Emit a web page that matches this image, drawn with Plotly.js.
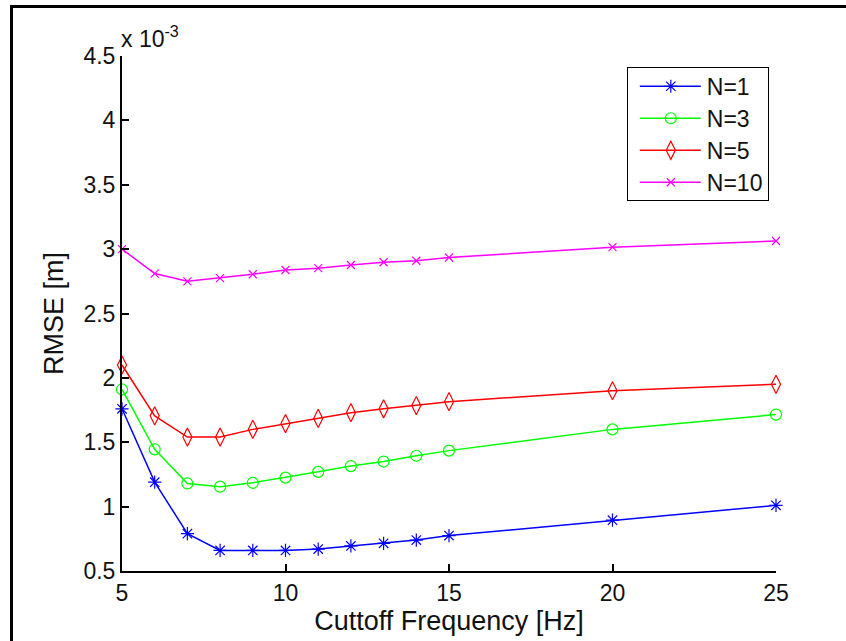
<!DOCTYPE html>
<html>
<head>
<meta charset="utf-8">
<script src="https://cdn.plot.ly/plotly-3.0.1.min.js"></script>
<style>
  html, body { margin: 0; padding: 0; background: #fff; }
  #chart { position: absolute; left: 0; top: 0; width: 846px; height: 641px; }
  #frame { position: absolute; left: 10px; top: 5px; width: 900px; height: 700px;
           border-left: 3px solid #000; border-top: 3px solid #000; pointer-events: none; }
</style>
</head>
<body>
<div id="chart"></div>
<div id="frame"></div>
<script>
// Data (RMSE in units of 1e-3 m)
const cutoffHz = [5, 6, 7, 8, 9, 10, 11, 12, 13, 14, 15, 20, 25];
const rmseN1  = [1.76, 1.19, 0.79, 0.66, 0.66, 0.66, 0.67, 0.695, 0.715, 0.74, 0.775, 0.895, 1.01];
const rmseN3  = [1.91, 1.445, 1.18, 1.155, 1.185, 1.225, 1.27, 1.315, 1.35, 1.395, 1.435, 1.60, 1.715];
const rmseN5  = [2.10, 1.705, 1.54, 1.54, 1.60, 1.645, 1.685, 1.73, 1.76, 1.785, 1.815, 1.90, 1.95];
const rmseN10 = [3.00, 2.81, 2.75, 2.775, 2.805, 2.838, 2.852, 2.877, 2.898, 2.91, 2.935, 3.015, 3.063];
const seriesNames = ['N=1', 'N=3', 'N=5', 'N=10'];
const xTicks = [5, 10, 15, 20, 25];
const yTicks = [0.5, 1, 1.5, 2, 2.5, 3, 3.5, 4, 4.5];

const font = 'Arial, "Liberation Sans", sans-serif';
function tr(y, name, color, symbol, size) {
  return {
    x: cutoffHz, y: y, name: name, type: 'scatter', mode: 'lines+markers',
    line: { color: color, width: 1.5 },
    marker: { symbol: symbol, size: size, color: color, line: { color: color, width: 1.2 } },
    cliponaxis: false
  };
}
const data = [
  tr(rmseN1, seriesNames[0], '#0000ff', 'asterisk-open', 11),
  tr(rmseN3, seriesNames[1], '#00ff00', 'circle-open', 11),
  tr(rmseN5, seriesNames[2], '#ff0000', 'diamond-tall-open', 13),
  tr(rmseN10, seriesNames[3], '#ff00ff', 'x-thin-open', 8)
];
const layout = {
  width: 846, height: 641,
  margin: { l: 122, r: 70, t: 56, b: 70, pad: 0 },
  paper_bgcolor: '#fff', plot_bgcolor: '#fff',
  font: { family: font, size: 23, color: '#111' },
  showlegend: true,
  xaxis: {
    range: [5, 25], tickvals: xTicks, ticktext: xTicks.map(String),
    ticks: 'inside', ticklen: 7, tickwidth: 2, tickcolor: '#000',
    showline: true, linecolor: '#000', linewidth: 2, mirror: false,
    showgrid: false, zeroline: false, automargin: false,
    tickfont: { family: font, size: 23, color: '#111' },
    title: { text: 'Cuttoff Frequency [Hz]', font: { family: font, size: 27, color: '#111' }, standoff: 4 }
  },
  yaxis: {
    range: [0.5, 4.5], tickvals: yTicks, ticktext: yTicks.map(String),
    ticks: 'inside', ticklen: 7, tickwidth: 2, tickcolor: '#000',
    showline: true, linecolor: '#000', linewidth: 2, mirror: false,
    showgrid: false, zeroline: false, automargin: false,
    tickfont: { family: font, size: 23, color: '#111' },
    title: { text: 'RMSE [m]', font: { family: font, size: 27, color: '#111' }, standoff: 12 }
  },
  legend: {
    x: 0.989, xanchor: 'right', y: 0.979, yanchor: 'top',
    bgcolor: '#fff', bordercolor: '#000', borderwidth: 1,
    font: { family: font, size: 23, color: '#111' },
    itemwidth: 69
  },
  annotations: [{
    xref: 'paper', yref: 'paper', x: 0, y: 1, xanchor: 'left', yanchor: 'bottom',
    text: 'x 10<sup>-3</sup>', showarrow: false, yshift: 2, xshift: -3,
    font: { family: font, size: 23, color: '#111' }
  }]
};
Plotly.newPlot('chart', data, layout, { displayModeBar: false, staticPlot: true }).then(function (gd) {
  // MATLAB-style legend samples: longer lines, marker centred on the line
  gd.querySelectorAll('.legend .legendlines path').forEach(function (p) {
    p.setAttribute('d', 'M12,0h61');
  });
  gd.querySelectorAll('.legend .legendsymbols .legendpoints path').forEach(function (p) {
    p.setAttribute('transform', 'translate(43,0)');
  });
  // tighten the legend row spacing to the reference's 32 px
  const rows = Array.from(gd.querySelectorAll('.legend .traces'));
  if (rows.length > 1) {
    const parse = function (el) {
      const m = /translate\(\s*([-\d.]+)[ ,]+([-\d.]+)\s*\)/.exec(el.getAttribute('transform') || '');
      return m ? [parseFloat(m[1]), parseFloat(m[2])] : [0, 0];
    };
    const first = parse(rows[0]);
    const oldStep = parse(rows[1])[1] - first[1];
    const step = 32;
    const lift = 3;
    rows.forEach(function (r, i) {
      const p = parse(r);
      r.setAttribute('transform', 'translate(' + p[0] + ',' + (first[1] - lift + i * step) + ')');
    });
    const shrink = (oldStep - step) * rows.length + 2 * lift;
    const bg = gd.querySelector('.legend rect.bg');
    if (bg) bg.setAttribute('height', parseFloat(bg.getAttribute('height')) - shrink);
  }
});
</script>
</body>
</html>
